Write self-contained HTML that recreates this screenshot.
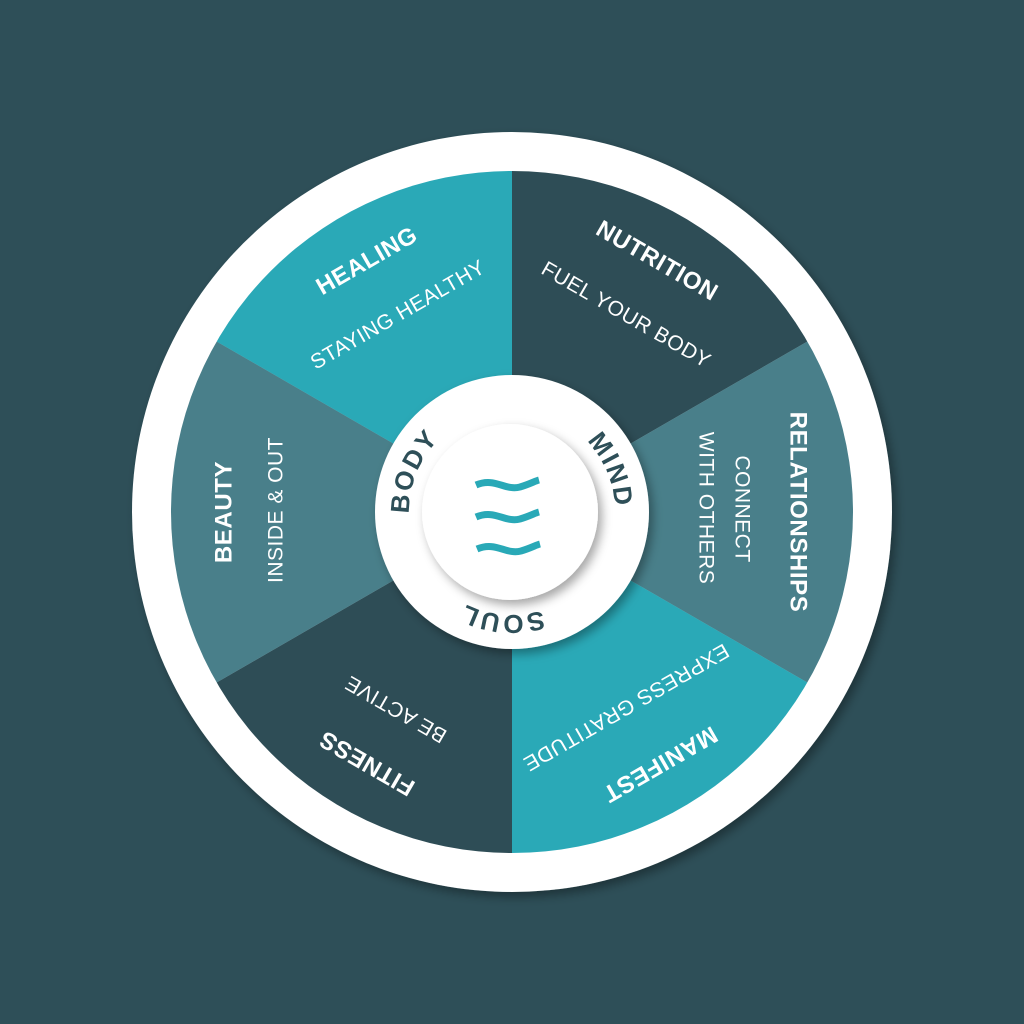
<!DOCTYPE html>
<html><head><meta charset="utf-8"><style>
html,body{margin:0;padding:0;background:#2e4f58;}
svg{display:block}
.t{font-family:"Liberation Sans",sans-serif;font-weight:bold;fill:#fff;font-size:24px;letter-spacing:0.6px}
.s{font-family:"Liberation Sans",sans-serif;fill:#fff;font-size:21px;letter-spacing:0.5px}
.c{font-family:"Liberation Sans",sans-serif;font-weight:bold;fill:#2e4f58;font-size:26px;letter-spacing:2px}
</style></head><body>
<svg width="1024" height="1024" viewBox="0 0 1024 1024">
<defs>
<filter id="sh" x="-20%" y="-20%" width="140%" height="140%">
<feDropShadow dx="4" dy="5" stdDeviation="5" flood-color="#000" flood-opacity="0.35"/>
</filter>
<clipPath id="cp"><circle cx="512" cy="512" r="341"/></clipPath>
<path id="cir" d="M409,512 A103,103 0 1 1 615,512 A103,103 0 1 1 409,512"/>
</defs>
<rect width="1024" height="1024" fill="#2e4f58"/>
<circle cx="512" cy="512" r="380" fill="#fff" filter="url(#sh)"/>
<g clip-path="url(#cp)" filter="url(#sh)">
<path d="M512,512 L512,112 L858.4,312 Z" fill="#2d4d56"/>
<path d="M512,512 L858.4,312 L858.4,712 Z" fill="#4a7f8a"/>
<path d="M512,512 L858.4,712 L512,912 Z" fill="#29a9b7"/>
<path d="M512,512 L512,912 L165.6,712 Z" fill="#2d4d56"/>
<path d="M512,512 L165.6,712 L165.6,312 Z" fill="#4a7f8a"/>
<path d="M512,512 L165.6,312 L512,112 Z" fill="#29a9b7"/>
</g>
<text class="t" x="367" y="261" text-anchor="middle" dominant-baseline="central" transform="rotate(-30 367 261)">HEALING</text>
<text class="s" x="398" y="315" text-anchor="middle" dominant-baseline="central" transform="rotate(-30 398 315)">STAYING HEALTHY</text>
<text class="t" x="657" y="261" text-anchor="middle" dominant-baseline="central" transform="rotate(30 657 261)">NUTRITION</text>
<text class="s" x="626" y="315" text-anchor="middle" dominant-baseline="central" transform="rotate(30 626 315)">FUEL YOUR BODY</text>
<text class="t" x="798" y="512" text-anchor="middle" dominant-baseline="central" transform="rotate(90 798 512)">RELATIONSHIPS</text>
<text class="s" x="742" y="509" text-anchor="middle" dominant-baseline="central" transform="rotate(90 742 509)">CONNECT</text>
<text class="s" x="706" y="508" text-anchor="middle" dominant-baseline="central" transform="rotate(90 706 508)">WITH OTHERS</text>
<text class="t" x="660" y="764" text-anchor="middle" dominant-baseline="central" transform="rotate(150 660 764)">MANIFEST</text>
<text class="s" x="626" y="707" text-anchor="middle" dominant-baseline="central" transform="rotate(150 626 707)">EXPRESS GRATITUDE</text>
<text class="t" x="367" y="763" text-anchor="middle" dominant-baseline="central" transform="rotate(210 367 763)">FITNESS</text>
<text class="s" x="396" y="709" text-anchor="middle" dominant-baseline="central" transform="rotate(210 396 709)">BE ACTIVE</text>
<text class="t" x="224" y="512" text-anchor="middle" dominant-baseline="central" transform="rotate(-90 224 512)">BEAUTY</text>
<text class="s" x="276" y="510" text-anchor="middle" dominant-baseline="central" transform="rotate(-90 276 510)">INSIDE &amp; OUT</text>
<circle cx="512" cy="512" r="137" fill="#fff" filter="url(#sh)"/>
<circle cx="510" cy="512" r="88" fill="#fff" filter="url(#sh)"/>
<text class="c"><textPath href="#cir" startOffset="40" text-anchor="middle">BODY</textPath></text>
<text class="c"><textPath href="#cir" startOffset="282" text-anchor="middle">MIND</textPath></text>
<text class="c"><textPath href="#cir" startOffset="494" text-anchor="middle">SOUL</textPath></text>
<g fill="none" stroke="#29a9b7" stroke-width="7">
<path d="M476,485 C495,477 505,491 520,487 C530,484 535,481 539,480"/>
<path d="M476,517 C495,509 505,523 520,519 C530,516 535,513 539,512"/>
<path d="M477,549 C496,541 506,555 521,551 C531,548 536,545 540,544"/>
</g>
</svg>
</body></html>
